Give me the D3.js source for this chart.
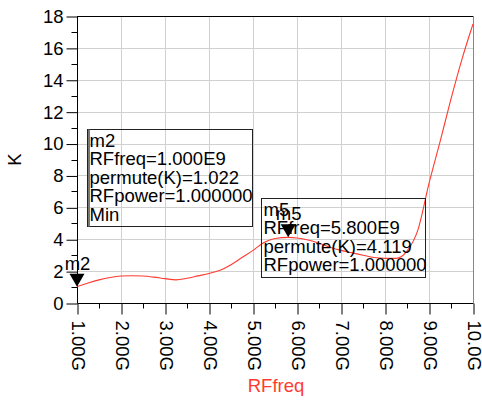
<!DOCTYPE html>
<html>
<head>
<meta charset="utf-8">
<script src="https://cdn.jsdelivr.net/npm/d3@7"></script>
<style>
  body { margin: 0; background: #fff; }
  text { font-family: "Liberation Sans", Arial, sans-serif; }
</style>
</head>
<body>
<div id="chart"></div>
<script>

// frequency sweep (GHz) and stability factor K
var freqGHz = [1.0, 1.25, 1.5, 1.75, 2.0, 2.25, 2.5, 2.75, 3.0, 3.25, 3.5, 3.75,
  4.0, 4.25, 4.5, 4.75, 5.0, 5.25, 5.5, 5.8, 6.0, 6.25, 6.5, 6.75, 7.0, 7.25,
  7.5, 7.75, 8.0, 8.25, 8.5, 8.75, 9.0, 9.25, 9.5, 9.75, 10.0];
var kValues = [1.022, 1.25, 1.45, 1.6, 1.69, 1.71, 1.69, 1.62, 1.53, 1.45, 1.55, 1.7,
  1.85, 2.05, 2.4, 2.85, 3.3, 3.8, 4.05, 4.119, 4.08, 3.95, 3.75, 3.5, 3.3, 3.15,
  3.0, 2.85, 2.8, 2.8, 3.25, 4.6, 7.5, 10.1, 12.8, 15.3, 17.5];

var xTicks = [1, 2, 3, 4, 5, 6, 7, 8, 9, 10];
var xTickLabels = ["1.00G", "2.00G", "3.00G", "4.00G", "5.00G", "6.00G", "7.00G", "8.00G", "9.00G", "10.0G"];
var yTicks = [0, 2, 4, 6, 8, 10, 12, 14, 16, 18];

// markers
var markerNames = ["m2", "m5"];
var markerFreq = [1.0, 5.8];
var markerK = [1.022, 4.119];
var markerBoxes = [
  ["m2", "RFfreq=1.000E9", "permute(K)=1.022", "RFpower=1.000000", "Min"],
  ["m5", "RFfreq=5.800E9", "permute(K)=4.119", "RFpower=1.000000"]
];

var svgWidth = 482;
var svgHeight = 403;
var margin = { top: 16, right: 9, bottom: 100, left: 77 };
var width = svgWidth - margin.left - margin.right;
var height = svgHeight - margin.top - margin.bottom;
var red = "#ff3b30";
var fontSize = "18.5px";

var svg = d3.select("#chart")
  .append("svg")
  .attr("width", svgWidth)
  .attr("height", svgHeight);

var chartGroup = svg.append("g")
  .attr("transform", `translate(${margin.left}, ${margin.top})`);

var xScale = d3.scaleLinear().domain([1, 10]).range([0, width]);
var yScale = d3.scaleLinear().domain([0, 18]).range([height, 0]);

// grid
chartGroup.append("g")
  .selectAll("line")
  .data(xTicks.slice(1, -1))
  .enter()
  .append("line")
  .attr("x1", d => Math.round(xScale(d)) + 0.5)
  .attr("x2", d => Math.round(xScale(d)) + 0.5)
  .attr("y1", 0)
  .attr("y2", height)
  .attr("stroke", "#d0d0d0");

chartGroup.append("g")
  .selectAll("line")
  .data(yTicks.slice(1, -1))
  .enter()
  .append("line")
  .attr("x1", 0)
  .attr("x2", width)
  .attr("y1", d => Math.round(yScale(d)) + 0.5)
  .attr("y2", d => Math.round(yScale(d)) + 0.5)
  .attr("stroke", "#d0d0d0");

// frame: top black, right grey
chartGroup.append("line")
  .attr("x1", 0).attr("x2", width).attr("y1", 0.5).attr("y2", 0.5)
  .attr("stroke", "#000");
chartGroup.append("line")
  .attr("x1", width + 0.5).attr("x2", width + 0.5).attr("y1", 0).attr("y2", height)
  .attr("stroke", "#888");

// y axis
var leftAxis = d3.axisLeft(yScale)
  .tickValues(yTicks)
  .tickSize(11)
  .tickPadding(3)
  .tickFormat(d3.format("d"));
var yAxisG = chartGroup.append("g")
  .attr("transform", "translate(0.5, 0.5)")
  .call(leftAxis);
yAxisG.select(".domain").attr("d", `M0,0V${height}`);
yAxisG.selectAll("text").attr("font-size", fontSize).attr("font-family", null).attr("fill", "#000");

chartGroup.append("g")
  .attr("transform", "translate(0.5, 0.5)")
  .selectAll("line")
  .data(d3.range(1, 18, 2))
  .enter()
  .append("line")
  .attr("x1", -6).attr("x2", 0)
  .attr("y1", d => Math.round(yScale(d)))
  .attr("y2", d => Math.round(yScale(d)))
  .attr("stroke", "#000");

// x axis
var bottomAxis = d3.axisBottom(xScale)
  .tickValues(xTicks)
  .tickSize(11)
  .tickFormat((d, i) => xTickLabels[i]);
var xAxisG = chartGroup.append("g")
  .attr("transform", `translate(0.5, ${height + 0.5})`)
  .call(bottomAxis);
xAxisG.select(".domain").attr("d", `M0,0H${width}`);
xAxisG.selectAll("text")
  .attr("font-size", fontSize)
  .attr("font-family", null)
  .attr("fill", "#000")
  .attr("text-anchor", "start")
  .attr("dy", "0.35em")
  .attr("y", 0)
  .attr("transform", "translate(0, 17) rotate(90)");

chartGroup.append("g")
  .attr("transform", `translate(0.5, ${height + 0.5})`)
  .selectAll("line")
  .data(d3.range(1.5, 10, 1))
  .enter()
  .append("line")
  .attr("x1", d => Math.round(xScale(d)))
  .attr("x2", d => Math.round(xScale(d)))
  .attr("y1", 0).attr("y2", 5)
  .attr("stroke", "#000");

// axis titles
chartGroup.append("text")
  .attr("transform", `translate(${-margin.left + 21}, ${yScale(9)}) rotate(-90)`)
  .attr("text-anchor", "middle")
  .attr("font-size", fontSize)
  .text("K");

chartGroup.append("text")
  .attr("x", width / 2 + 1)
  .attr("y", height + 89)
  .attr("text-anchor", "middle")
  .attr("font-size", fontSize)
  .attr("fill", red)
  .text("RFfreq");

// curve
var line = d3.line()
  .x((d, i) => xScale(freqGHz[i]))
  .y(d => yScale(d))
  .curve(d3.curveMonotoneX);

chartGroup.append("path")
  .datum(kValues)
  .attr("d", line)
  .attr("fill", "none")
  .attr("stroke", red)
  .attr("stroke-width", 1.1);

// marker readout boxes
var boxPos = [
  { x: 87 - margin.left, y: 129 - margin.top, w: 165, h: 97 },
  { x: 261 - margin.left, y: 198 - margin.top, w: 164, h: 79 }
];

markerBoxes.forEach(function(lines, b) {
  var p = boxPos[b];
  var g = chartGroup.append("g").attr("transform", `translate(${p.x + 0.5}, ${p.y + 0.5})`);
  g.append("rect")
    .attr("width", p.w).attr("height", p.h)
    .attr("fill", "none")
    .attr("stroke", "#222");
  if (b === 0) {
    g.append("line")
      .attr("x1", 1.5).attr("x2", 1.5).attr("y1", 0).attr("y2", p.h)
      .attr("stroke", "#777").attr("stroke-width", 2);
  }
  g.selectAll("text")
    .data(lines)
    .enter()
    .append("text")
    .attr("x", 2)
    .attr("y", (d, i) => 17 + i * 18.5)
    .attr("font-size", fontSize)
    .text(d => d);
});

// marker triangles and names
markerNames.forEach(function(name, i) {
  var tx = xScale(markerFreq[i]);
  var ty = yScale(markerK[i]);
  chartGroup.append("path")
    .attr("d", `M${tx},${ty}L${tx - 7.5},${ty - 13}L${tx + 7.5},${ty - 13}Z`)
    .attr("fill", "#000");
  chartGroup.append("text")
    .attr("x", tx + 0.5)
    .attr("y", ty - 17)
    .attr("text-anchor", "middle")
    .attr("font-size", fontSize)
    .text(name);
});

</script>
</body>
</html>
